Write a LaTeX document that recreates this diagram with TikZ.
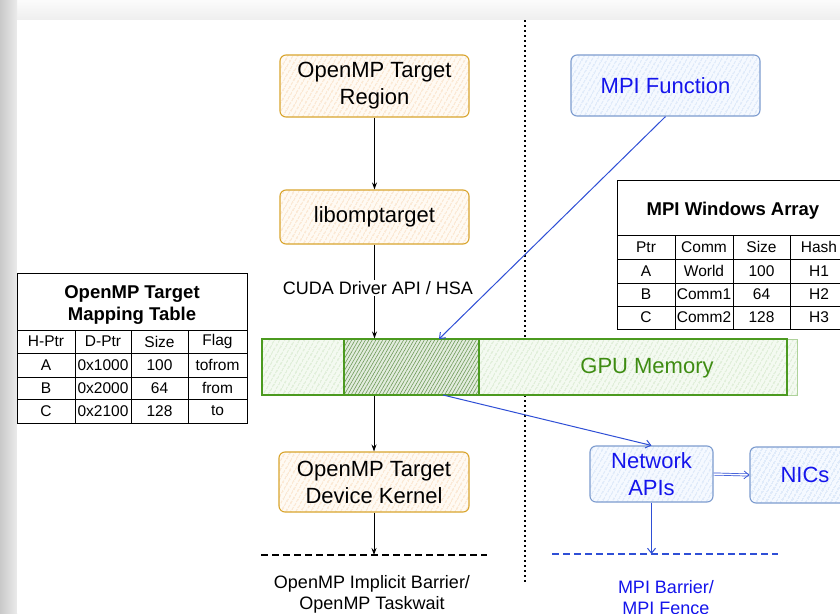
\documentclass[tikz,border=0pt]{standalone}
\usepackage{fontspec}
\setmainfont{Liberation Sans}
\usetikzlibrary{arrows.meta,patterns.meta}
\definecolor{ostroke}{HTML}{D9A52E}
\definecolor{ofill}{HTML}{FFFAF3}
\definecolor{ohatch}{HTML}{F6CCA0}
\definecolor{bstroke}{HTML}{7D9CCF}
\definecolor{bfill}{HTML}{F5F9FF}
\definecolor{bhatch}{HTML}{BCD2F2}
\definecolor{btext}{HTML}{1414EC}
\definecolor{barrow}{HTML}{2F4FD6}
\definecolor{gstroke}{HTML}{4B9A1F}
\definecolor{gfill}{HTML}{F4FAF1}
\definecolor{ghatch}{HTML}{BFDDB2}
\definecolor{gdfill}{HTML}{E2ECDD}
\definecolor{gdhatch}{HTML}{6E9A58}
\definecolor{gtext}{HTML}{3E8C12}
\tikzset{
  every node/.style={font=\fontsize{15.5}{18}\selectfont},
  boxtxt/.style={font=\fontsize{22}{27}\selectfont, align=center},
  obox/.style={boxtxt, draw=ostroke, line width=1.1pt, rounded corners=6pt, inner sep=0pt,
    preaction={fill=ofill}, preaction={pattern={Lines[angle=60,distance=4pt,line width=0.6pt]}, pattern color=ohatch}},
  bbox/.style={boxtxt, text=btext, draw=bstroke, line width=1.1pt, rounded corners=6pt, inner sep=0pt,
    preaction={fill=bfill}, preaction={pattern={Lines[angle=60,distance=4pt,line width=0.6pt]}, pattern color=bhatch}},
  gbar/.style={draw=gstroke, line width=1.1pt, inner sep=0pt,
    preaction={fill=gfill}, preaction={pattern={Lines[angle=60,distance=4pt,line width=0.6pt]}, pattern color=ghatch}},
  gdark/.style={draw=gstroke, line width=1.1pt, inner sep=0pt,
    preaction={fill=gdfill}, preaction={pattern={Lines[angle=60,distance=3pt,line width=0.6pt]}, pattern color=gdhatch}},
  karrow/.style={draw=black, line width=0.9pt, -{Stealth[length=7pt,width=5pt]}},
  barr/.style={draw=barrow, line width=1pt, -{Straight Barb[length=5pt,width=8pt]}},
  lbl/.style={font=\fontsize{18}{21}\selectfont, align=center},
  tline/.style={draw=black, line width=0.8pt},
  thead/.style={font=\bfseries\fontsize{18.5}{22}\selectfont, align=center},
}
\begin{document}
\begin{tikzpicture}[x=1pt,y=-1pt]
\useasboundingbox (0,0) rectangle (840,613);
\clip (0,0) rectangle (840,613);
% page frame
\fill[gray!6] (0,0) rectangle (840,613);
\shade[top color=gray!3, bottom color=gray!13] (0,0) rectangle (840,20);
\shade[left color=gray!42, right color=gray!16] (0,0) rectangle (17,613);
\fill[white] (17,20) rectangle (840,613);

% separator
\draw[black, line width=1.3pt, dash pattern=on 2pt off 3pt] (525,20) -- (525,583);

% OpenMP side
\node[obox, minimum width=189pt, minimum height=62pt] (reg) at (374.5,86) {OpenMP Target\\Region};
\node[obox, minimum width=189pt, minimum height=54pt] (lib) at (374.5,217) {libomptarget};
\node[obox, minimum width=190pt, minimum height=60pt] (kern) at (374,482) {OpenMP Target\\Device Kernel};

% GPU memory
\node[gbar, minimum width=535pt, minimum height=56pt, draw=gstroke!45, line width=0.8pt] (gpuback) at (529.5,367) {};
\node[gbar, minimum width=525pt, minimum height=56pt] (gpu) at (524.5,367) {};
\node[gdark, minimum width=135pt, minimum height=56pt] (gdk) at (411.5,367) {};
\node[boxtxt, text=gtext] (gputxt) at (647,368) {GPU Memory};

% MPI side
\node[bbox, minimum width=189pt, minimum height=61pt] (mpi) at (665.5,85.5) {MPI Function};
\node[bbox, minimum width=123pt, minimum height=56pt] (net) at (651.5,474) {Network\\APIs};
\node[bbox, minimum width=110pt, minimum height=56pt] (nics) at (805,475) {NICs};

% barrier lines
\coordinate (b1L) at (261,555);
\coordinate (b1R) at (487,555);
\coordinate (b2L) at (552,554);
\coordinate (b2R) at (778,554);
\draw[black, line width=2pt, dash pattern=on 7pt off 4pt] (b1L) -- (b1R);
\draw[barrow, line width=2pt, dash pattern=on 7pt off 4pt] (b2L) -- (b2R);
\node[lbl] (ombar) at (372,594.5) {OpenMP Implicit Barrier/\\OpenMP Taskwait};
\node[lbl, text=btext] (mpibar) at (666,597.5) {MPI Barrier/\\MPI Fence};

% black arrows
\draw[karrow] (reg.south) -- (lib.north);
\draw[karrow] (lib.south) -- (lib.south |- gpu.north);
\node[lbl, fill=white, inner sep=1pt] (cuda) at (378,288) {CUDA Driver API / HSA};
\draw[karrow] (kern.north |- gpu.south) -- (kern.north);
\draw[karrow] (kern.south) -- (kern.south |- b1L);

% blue arrows
\coordinate (gpuin) at (439,339);
\coordinate (gpuout) at (443,395);
\draw[barr] (mpi.south) -- (gpuin);
\draw[barr] (gpuout) -- (net.north);
\draw[barr, double=white, double distance=1.5pt, line width=0.7pt] (net.east) -- (nics.west);
\draw[barr] (net.south) -- (net.south |- b2L);

% OpenMP mapping table
\draw[tline, fill=white] (17,273) rectangle (247,423);
\foreach \yy in {330,353,377,399} \draw[tline] (17,\yy) -- (247,\yy);
\foreach \xx in {75,131,188} \draw[tline] (\xx,330) -- (\xx,423);
\node[thead] (mtt) at (132,304.5) {OpenMP Target\\Mapping Table};
\foreach \nm/\xx/\yy/\tx in {
  mh1/46/341.5/H-Ptr, mh2/103/341.5/D-Ptr, mh3/159.5/341.5/Size, mh4/217.5/341.5/Flag,
  ma1/46/365/A, ma2/103/365/0x1000, ma3/159.5/365/100, ma4/217.5/365/tofrom,
  mb1/46/388/B, mb2/103/388/0x2000, mb3/159.5/388/64, mb4/217.5/388/from,
  mc1/46/411/C, mc2/103/411/0x2100, mc3/159.5/411/128, mc4/217.5/411/to}
  \node (\nm) at (\xx,\yy) {\tx};

% MPI windows table
\draw[tline, fill=white] (617,180) rectangle (848,329);
\foreach \yy in {235,259,283,306} \draw[tline] (617,\yy) -- (848,\yy);
\foreach \xx in {675,733,790} \draw[tline] (\xx,235) -- (\xx,329);
\node[thead] (wtt) at (733,211) {MPI Windows Array};
\foreach \nm/\xx/\yy/\tx in {
  wh1/646/247/Ptr, wh2/704/247/Comm, wh3/761.5/247/Size, wh4/819/247/Hash,
  wa1/646/271/A, wa2/704/271/World, wa3/761.5/271/100, wa4/819/271/H1,
  wb1/646/294.5/B, wb2/704/294.5/Comm1, wb3/761.5/294.5/64, wb4/819/294.5/H2,
  wc1/646/317.5/C, wc2/704/317.5/Comm2, wc3/761.5/317.5/128, wc4/819/317.5/H3}
  \node (\nm) at (\xx,\yy) {\tx};
\end{tikzpicture}
\end{document}
